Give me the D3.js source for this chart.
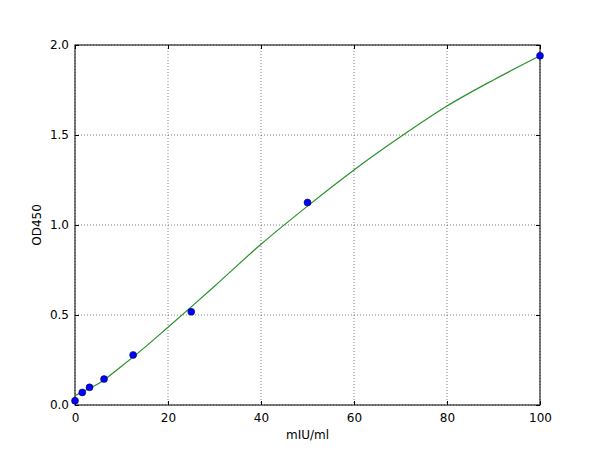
<!DOCTYPE html>
<html lang="en">
    <head>
        <meta charset="UTF-8">
        <script src="https://cdn.jsdelivr.net/npm/d3@7/dist/d3.min.js"></script>
        <title>Standard curve</title>
        <style>
            body { margin: 0; background: #fff; }
            text { font-family: "DejaVu Sans", sans-serif; font-size: 12px; fill: #000; }
        </style>
    </head>
    <body>
        <script type="text/javascript">
            // Measured standards
            var concentrations = [0, 1.5625, 3.125, 6.25, 12.5, 25, 50, 100];
            var odValues = [0.024, 0.070, 0.098, 0.144, 0.278, 0.518, 1.125, 1.94];

            // Fitted curve
            var fitX = [0, 2.5, 5, 10, 15, 20, 25, 30, 40, 50, 60, 70, 80, 90, 100];
            var fitY = [0.052, 0.085, 0.118, 0.215, 0.32, 0.432, 0.545, 0.66, 0.893, 1.105, 1.306, 1.49, 1.661, 1.806, 1.94];

            var xTicks = [0, 20, 40, 60, 80, 100];
            var yTicks = [0.0, 0.5, 1.0, 1.5, 2.0];

            var margin = { top: 45, right: 60, bottom: 45, left: 75 };
            var width = 600 - margin.left - margin.right;
            var height = 450 - margin.top - margin.bottom;

            var svg = d3.select("body")
                .append("svg")
                .attr("width", 600)
                .attr("height", 450)
                .append("g")
                .attr("transform", "translate(" + margin.left + "," + margin.top + ")");

            var xScale = d3.scaleLinear().domain([0, 100]).range([0, width]);
            var yScale = d3.scaleLinear().domain([0, 2]).range([height, 0]);

            // Grid lines
            svg.append("g")
                .selectAll("line")
                .data(xTicks)
                .enter()
                .append("line")
                .attr("x1", function(d){ return xScale(d); })
                .attr("x2", function(d){ return xScale(d); })
                .attr("y1", 0)
                .attr("y2", height)
                .attr("stroke", "#000")
                .attr("stroke-width", 0.5)
                .attr("stroke-dasharray", "1,2");

            svg.append("g")
                .selectAll("line")
                .data(yTicks)
                .enter()
                .append("line")
                .attr("x1", 0)
                .attr("x2", width)
                .attr("y1", function(d){ return yScale(d); })
                .attr("y2", function(d){ return yScale(d); })
                .attr("stroke", "#000")
                .attr("stroke-width", 0.5)
                .attr("stroke-dasharray", "1,2");

            // Axes with inward ticks on all four sides
            var fmtY = d3.format(".1f");
            svg.append("g")
                .attr("transform", "translate(0," + height + ")")
                .call(d3.axisBottom(xScale).tickValues(xTicks).tickSizeInner(-4).tickSizeOuter(0).tickPadding(8));
            svg.append("g")
                .call(d3.axisTop(xScale).tickValues(xTicks).tickSizeInner(-4).tickSizeOuter(0).tickFormat(""));
            svg.append("g")
                .call(d3.axisLeft(yScale).tickValues(yTicks).tickSizeInner(-4).tickSizeOuter(0).tickPadding(6).tickFormat(fmtY));
            svg.append("g")
                .attr("transform", "translate(" + width + ",0)")
                .call(d3.axisRight(yScale).tickValues(yTicks).tickSizeInner(-4).tickSizeOuter(0).tickFormat(""));

            svg.selectAll(".tick text")
                .attr("font-family", "DejaVu Sans")
                .attr("font-size", 12);
            svg.selectAll(".domain").remove();

            // Frame
            svg.append("rect")
                .attr("width", width)
                .attr("height", height)
                .attr("fill", "none")
                .attr("stroke", "#000")
                .attr("stroke-width", 1);

            // Fitted line
            var line = d3.line()
                .x(function(d, i){ return xScale(fitX[i]); })
                .y(function(d){ return yScale(d); })
                .curve(d3.curveMonotoneX);

            svg.append("path")
                .datum(fitY)
                .attr("d", line)
                .attr("fill", "none")
                .attr("stroke", "#2a902a")
                .attr("stroke-width", 1.2);

            // Points
            svg.append("g")
                .selectAll("circle")
                .data(odValues)
                .enter()
                .append("circle")
                .attr("cx", function(d, i){ return xScale(concentrations[i]); })
                .attr("cy", function(d){ return yScale(d); })
                .attr("r", 3.5)
                .attr("fill", "#0000ff")
                .attr("stroke", "#000033")
                .attr("stroke-width", 0.5);

            // Axis labels
            svg.append("text")
                .attr("text-anchor", "middle")
                .attr("x", width / 2)
                .attr("y", height + 34)
                .text("mIU/ml");

            svg.append("text")
                .attr("text-anchor", "middle")
                .attr("transform", "translate(-34," + (height / 2) + ") rotate(-90)")
                .text("OD450");
        </script>
    </body>
</html>
